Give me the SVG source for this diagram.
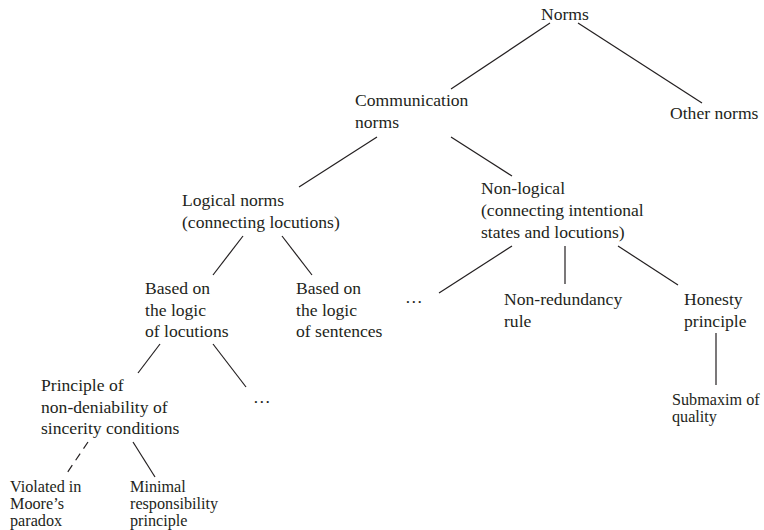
<svg xmlns="http://www.w3.org/2000/svg" width="764" height="530" viewBox="0 0 764 530">
<style>
.t{font-family:"Liberation Serif","Times New Roman",serif;font-size:17.6px;fill:#231f20}
.s{font-family:"Liberation Serif","Times New Roman",serif;font-size:16.2px;fill:#231f20}
.e line{stroke:#231f20;stroke-width:1.2;fill:none}
</style>
<rect width="764" height="530" fill="#fff"/>
<g id="connectors" class="e">
<line x1="550" y1="23" x2="451" y2="89"/>
<line x1="578" y1="23" x2="702" y2="103"/>
<line x1="377" y1="137" x2="299" y2="187"/>
<line x1="451" y1="137" x2="512" y2="176"/>
<line x1="243" y1="236" x2="213" y2="275"/>
<line x1="282" y1="236" x2="312" y2="275"/>
<line x1="512" y1="246" x2="439" y2="293"/>
<line x1="565" y1="246" x2="565" y2="284"/>
<line x1="618" y1="246" x2="678" y2="285"/>
<line x1="716" y1="333" x2="716" y2="385"/>
<line x1="160" y1="344" x2="138" y2="373"/>
<line x1="213" y1="344" x2="246" y2="387"/>
<line x1="88" y1="442" x2="67" y2="473" stroke-dasharray="8 6"/>
<line x1="133" y1="442" x2="155" y2="477"/>
</g>
<g id="norms"><text class="t" x="541" y="20">Norms</text></g>
<g id="communication"><text class="t" x="355" y="106">Communication</text><text class="t" x="355" y="128">norms</text></g>
<g id="other"><text class="t" x="670" y="119">Other norms</text></g>
<g id="logical"><text class="t" x="182" y="206">Logical norms</text><text class="t" x="182" y="228">(connecting locutions)</text></g>
<g id="nonlogical"><text class="t" x="481" y="194">Non-logical</text><text class="t" x="481" y="216">(connecting intentional</text><text class="t" x="481" y="238">states and locutions)</text></g>
<g id="dots1"><text class="t" x="405" y="303">…</text></g>
<g id="nonredundancy"><text class="t" x="504" y="305">Non-redundancy</text><text class="t" x="504" y="327">rule</text></g>
<g id="honesty"><text class="t" x="684" y="305">Honesty</text><text class="t" x="684" y="327">principle</text></g>
<g id="submaxim"><text class="s" x="672" y="405">Submaxim of</text><text class="s" x="672" y="422">quality</text></g>
<g id="basedloc"><text class="t" x="145" y="294">Based on</text><text class="t" x="145" y="316">the logic</text><text class="t" x="145" y="337">of locutions</text></g>
<g id="basedsent"><text class="t" x="296" y="294">Based on</text><text class="t" x="296" y="316">the logic</text><text class="t" x="296" y="337">of sentences</text></g>
<g id="principle"><text class="t" x="41" y="391">Principle of</text><text class="t" x="41" y="413">non-deniability of</text><text class="t" x="41" y="434">sincerity conditions</text></g>
<g id="dots2"><text class="t" x="253" y="403">…</text></g>
<g id="violated"><text class="s" x="10" y="492">Violated in</text><text class="s" x="10" y="509">Moore’s</text><text class="s" x="10" y="526">paradox</text></g>
<g id="minimal"><text class="s" x="130" y="492">Minimal</text><text class="s" x="130" y="509">responsibility</text><text class="s" x="130" y="526">principle</text></g>
</svg>
